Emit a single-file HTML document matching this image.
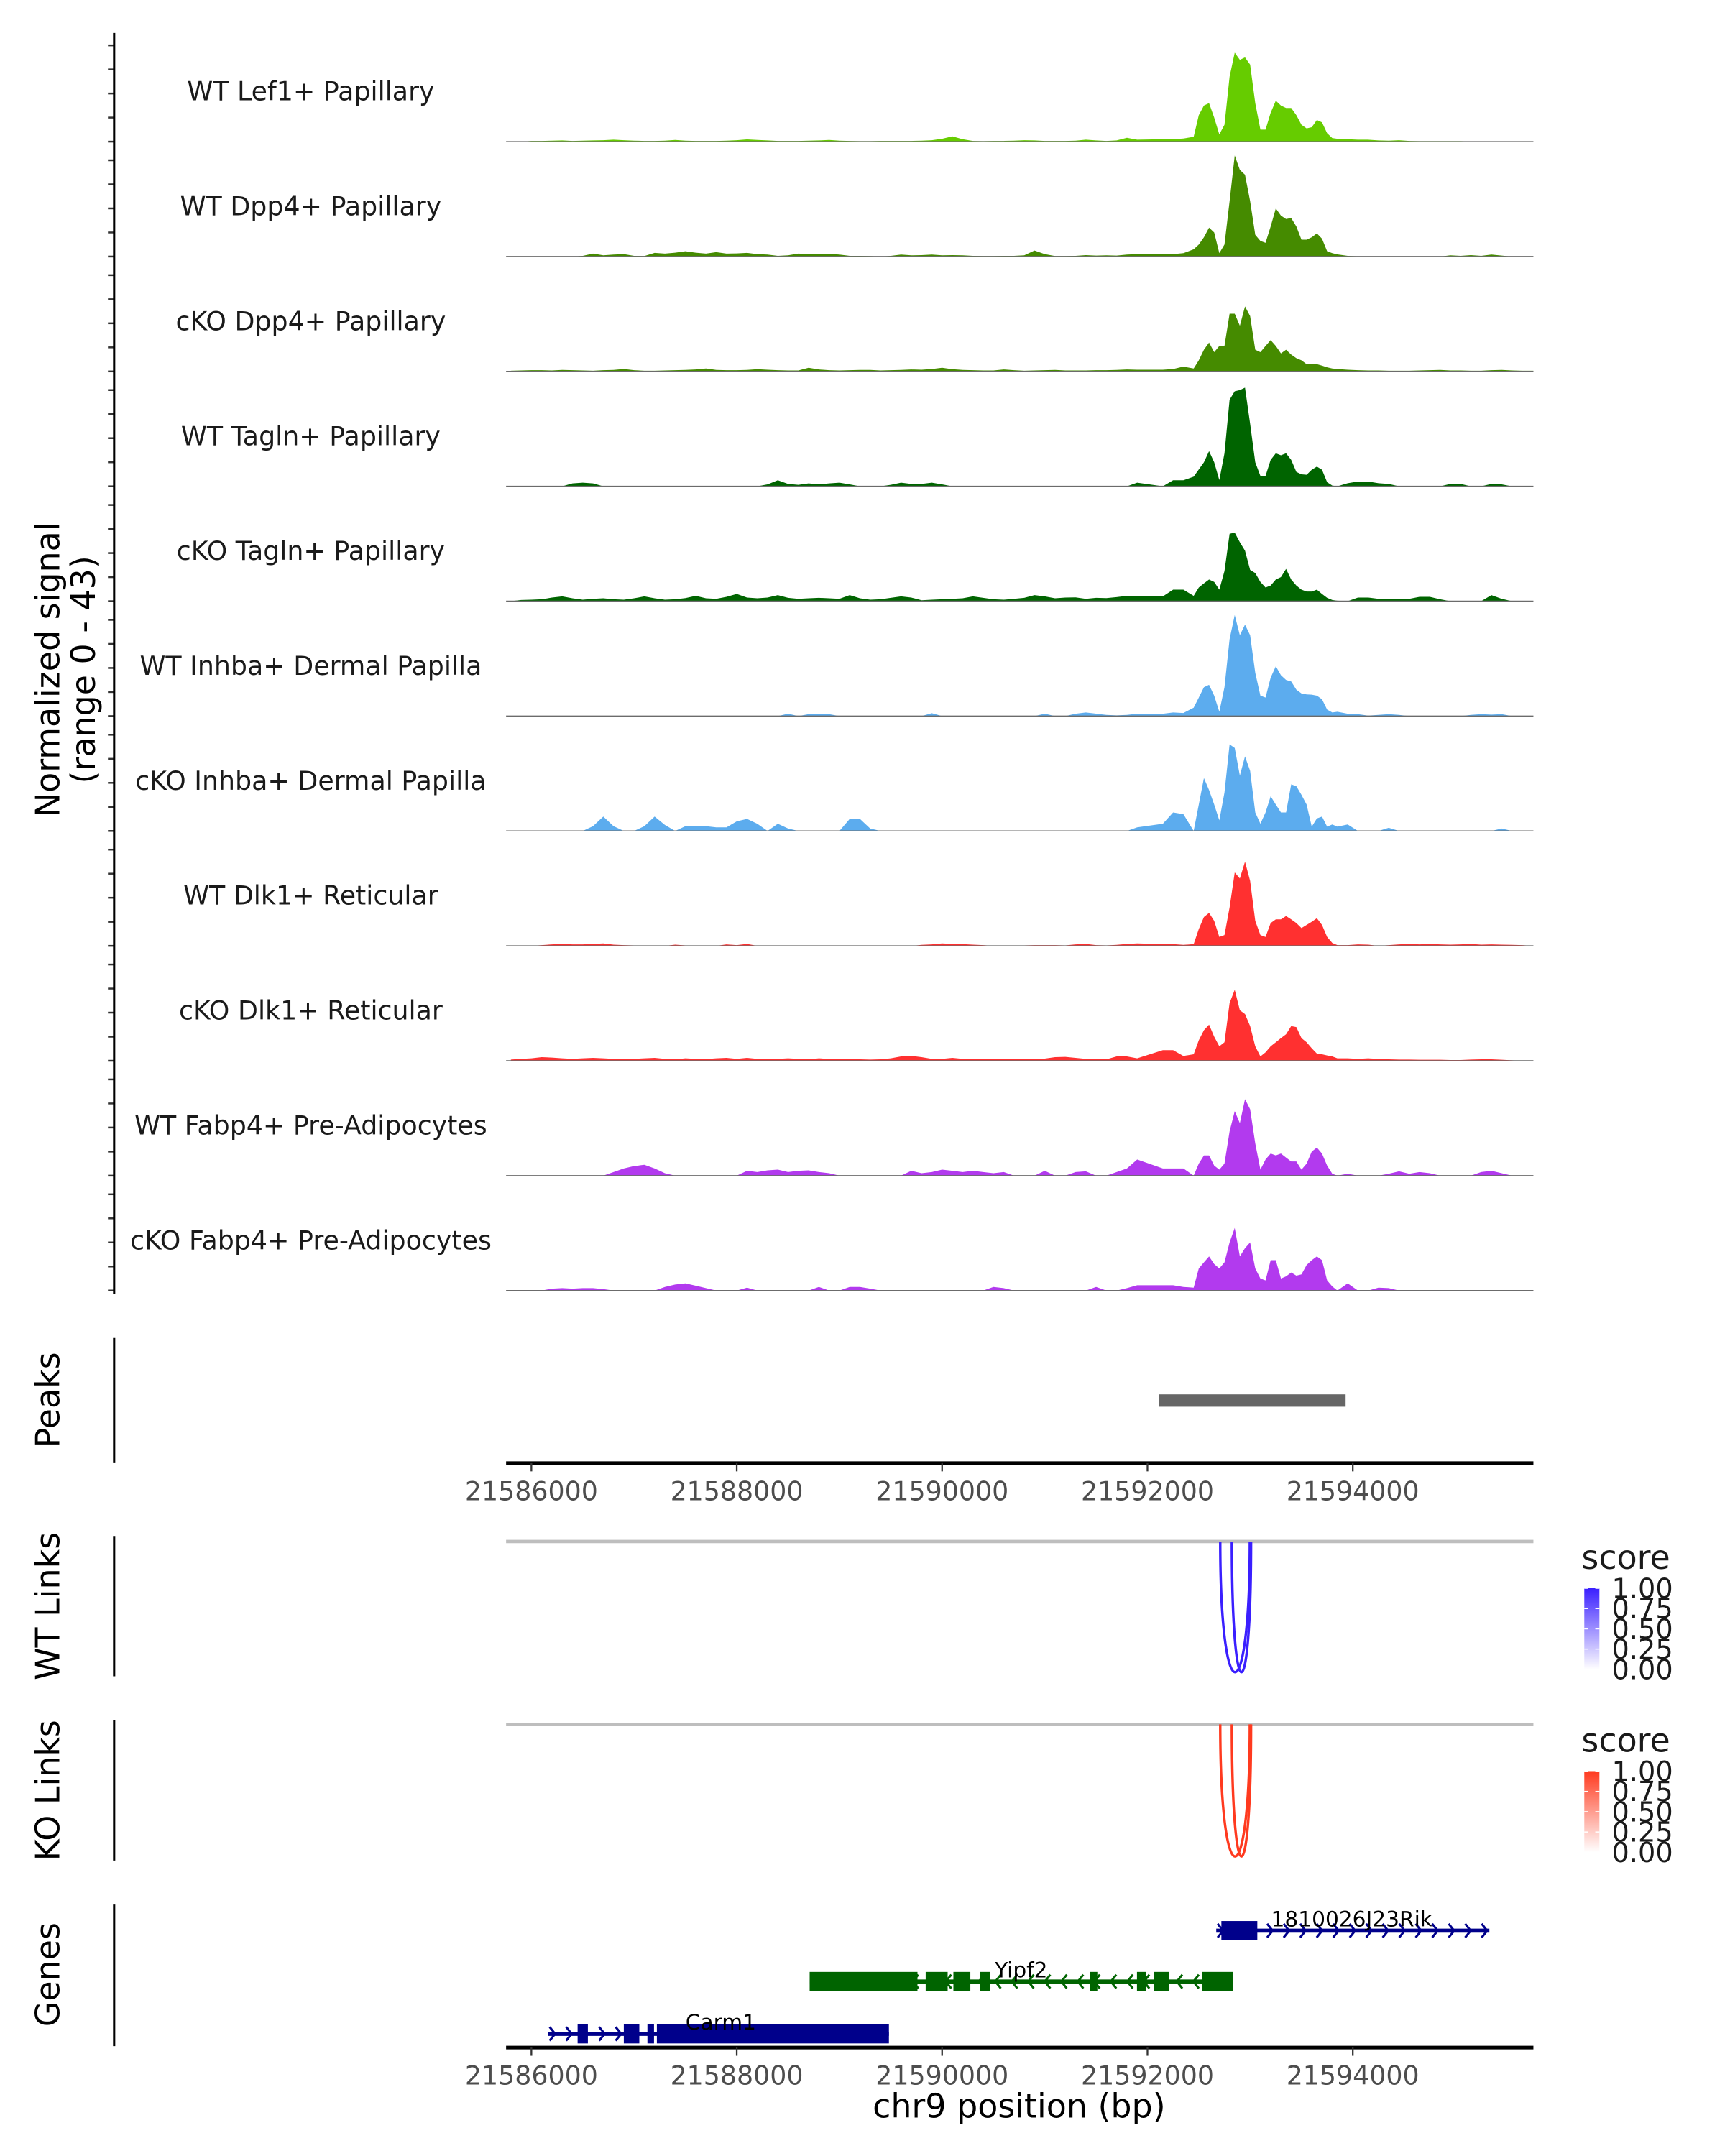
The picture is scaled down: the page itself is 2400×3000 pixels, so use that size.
<!DOCTYPE html>
<html><head><meta charset="utf-8"><style>
html,body{margin:0;padding:0;background:#fff;}
svg{display:block;font-family:"DejaVu Sans","Liberation Sans",sans-serif;}
</style></head><body>
<svg id="fig" width="2400" height="3000" viewBox="0 0 1240 1550" xmlns="http://www.w3.org/2000/svg">
<defs>
<clipPath id="clipTracks"><rect x="368" y="0" width="747" height="1550"/></clipPath>
<linearGradient id="gradBlue" x1="0" y1="0" x2="0" y2="1"><stop offset="0" stop-color="#3a1fff"/><stop offset="1" stop-color="#ffffff"/></linearGradient>
<linearGradient id="gradRed" x1="0" y1="0" x2="0" y2="1"><stop offset="0" stop-color="#ff3a1f"/><stop offset="1" stop-color="#ffffff"/></linearGradient>
</defs>
<g id="root" transform="scale(0.9886)">
<g id="tracks"></g>
<g id="axes"></g>
</g>
</svg>
<script>
// ---- data ----
const trackNames = ["WT Lef1+ Papillary","WT Dpp4+ Papillary","cKO Dpp4+ Papillary","WT Tagln+ Papillary","cKO Tagln+ Papillary","WT Inhba+ Dermal Papilla","cKO Inhba+ Dermal Papilla","WT Dlk1+ Reticular","cKO Dlk1+ Reticular","WT Fabp4+ Pre-Adipocytes","cKO Fabp4+ Pre-Adipocytes"];
const trackColors = ["#66CC00","#458B00","#458B00","#006400","#006400","#5CACEE","#5CACEE","#FF3030","#FF3030","#B23AEE","#B23AEE"];
// positions (bp): 100bp grid to 21591900, 100bp to 21592450, 50bp grid to 21593850, 100bp grid after
const positions = [];
for (let p = 21585800; p <= 21591900; p += 100) positions.push(p);
for (let p = 21592150; p <= 21592450; p += 100) positions.push(p);
for (let p = 21592500; p <= 21593850; p += 50) positions.push(p);
for (let p = 21593950; p <= 21596050; p += 100) positions.push(p);

const sigLef1WT = [0,0,0.3,0.3,0.4,0.5,0.3,0.4,0.5,0.6,0.8,0.6,0.4,0.3,0.3,0.4,0.7,0.4,0.3,0.3,0.3,0.4,0.6,0.9,0.7,0.5,0.3,0.3,0.3,0.4,0.5,0.7,0.4,0.3,0.2,0.2,0.3,0.3,0.3,0.3,0.4,0.6,1.2,2.2,1.0,0.3,0.2,0.3,0.3,0.4,0.6,0.5,0.3,0.3,0.3,0.4,0.8,0.5,0.3,0.5,1.6,0.8,
 1,1,1.3,2,
 11,15,16,10,3,7,27,37,34,35,32,16,5,5,12,17,15,14,14,11,7,5.5,6,9,8,3.5,1.5,1.2,
 1,0.8,0.8,0.5,0.4,0.6,0.3,0.2,0.2,0.2,0.2,0.2,0.1,0.1,0.1,0.1,0,0,0,0,0,0];
const sigDpp4WT = [0,0,0,0,0,0,0,0.3,1.2,0.5,0.8,1,0.3,0.2,1.5,1.2,1.6,2.2,1.6,1.2,1.8,1.2,1.3,1.5,1,0.8,0.3,0.5,1.2,1.0,1.0,1.1,0.8,0.3,0.3,0.2,0,0.3,0.8,0.5,0.6,0.8,0.5,0.6,0.5,0.3,0.2,0.2,0.3,0.3,0.5,2.5,1.0,0.2,0.2,0.3,0.6,0.4,0.5,0.4,0.8,1,
 1,1,1.4,3,
 5,8,12,10,1.4,5,23,42,36,34,23,9,6.5,5.7,12.5,20,17,15.6,16,12.5,7,7,8,9.6,7.4,2.2,1.4,0.9,
 0.3,0.1,0,0,0,0,0,0,0,0,0.5,0.3,0.6,0.3,0.8,0.4,0,0,0,0,0,0];
const sigDpp4KO = [0.3,0.4,0.5,0.5,0.4,0.6,0.5,0.4,0.3,0.5,0.6,1.0,0.5,0.3,0.3,0.4,0.5,0.6,0.8,1.2,0.6,0.5,0.5,0.6,0.9,0.7,0.5,0.4,0.4,1.5,0.8,0.5,0.4,0.5,0.6,0.6,0.4,0.5,0.6,0.8,0.7,1.0,1.5,0.9,0.6,0.5,0.4,0.4,0.8,0.5,0.3,0.4,0.5,0.6,0.4,0.4,0.4,0.5,0.5,0.6,0.8,0.7,
 0.7,1,2,1.2,
 4.6,9,12,8,10.6,10.6,24,24,19,27,23,9,8,10.6,13,10.6,7.5,9,7,5.5,4.6,3,3,3,2.4,1.7,1.2,1,
 0.7,0.5,0.4,0.4,0.3,0.3,0.3,0.4,0.5,0.6,0.4,0.4,0.3,0.3,0.5,0.6,0.4,0.3,0.3,0.2,0,0];
const sigTaglnWT = [0,0,0,0,0,0,1.2,1.5,1.2,0,0,0,0,0,0,0,0,0,0,0,0,0,0,0,0,0.8,2.5,1,0.6,1.2,0.8,1.2,1.5,0.8,0,0,0,0.6,1.5,1,1,1.5,0.8,0,0,0,0,0,0,0,0,0,0,0,0,0,0,0,0,0,0,1.5,
 0,2.5,2.5,4,
 7,10,14.6,10,2.6,13.7,36,39.5,40,41,26,10,4.3,4.3,11,13.7,12.9,13.7,11,6,5,4.8,6.9,8.2,6.9,1.7,0.3,0,
 1.3,2,2,1.3,1,0,0,0,0,0,1,1,0,0,1,0.8,0,0,0,0,0,0];
const sigTaglnKO = [0,0.5,0.6,0.8,1.5,2,1.2,0.6,1,1.2,0.8,0.6,1.2,2,1.2,0.6,0.8,1.3,2.2,1.2,1,1.8,3,1.5,1.2,1.5,2.5,1.4,1,1.2,1.4,1.2,1.0,2.5,1.2,0.6,0.8,1.4,2,1.5,0.4,0.6,0.8,1,1.2,2,1.4,0.8,0.6,1,1.4,2.5,2,1.2,1.5,1.6,1,1.4,1.3,1.7,2.2,2,
 2,4.8,4.8,2.2,
 5.7,7.4,9,8,4.8,12.5,28,28.5,24.5,21,13,11.7,8,5.7,6.5,9,10,13.4,9,6.5,4.8,4,4,4.8,3,1.4,0.5,0.2,
 0,1.5,1.5,1,1,0.8,1,1.8,1.8,0.8,0,0,0,0,2.5,1,0,0,0,0,0,0];
const sigInhbaWT = [0,0,0,0,0,0,0,0,0,0,0,0,0,0,0,0,0,0,0,0,0,0,0,0,0,0,0,1,0,0.8,0.8,0.8,0,0,0,0,0,0,0,0,0,1.2,0,0,0,0,0,0,0,0,0,0,1,0,0,1,1.5,1,0.5,0.3,0.5,1,
 1,1.5,1.3,3.5,
 7.7,12,13,8.5,1.8,12,32,42,33.6,38,33.6,18,8.5,7.7,16,20.7,17,15,14.4,11,9.4,9,8.9,8.5,7,2.7,1.5,1.8,
 1,0.8,0.2,0.5,0.8,0.5,0,0,0,0,0,0,0.5,0.8,0.6,0.8,0,0,0,0,0,0];
const sigInhbaKO = [0,0,0,0,0,0,0,0,2,6,2,0,0,2,6,2.5,0,2,2,2,1.5,1.5,4,5,3,0,3,1,0,0,0,0,0,5,5,1,0,0,0,0,0,0,0,0,0,0,0,0,0,0,0,0,0,0,0,0,0,0,0,0,0,1.5,
 3,7.7,7,0,
 11,22,17,11,4.4,16,36,34.5,23,31,25,7.7,3,7.7,14.4,11,7.7,7.7,19.4,18.6,15,11,1.8,5.2,6,1.8,2.7,1.8,
 2.7,0,0,0,1.3,0,0,0,0,0,0,0,0,0,0,1,0,0,0,0,0,0];
const sigDlk1WT = [0,0,0,0.3,0.6,0.8,0.6,0.6,0.8,1,0.5,0.3,0.2,0,0,0,0.5,0.2,0,0,0,0.6,0.3,0.8,0,0,0,0,0,0,0,0,0,0,0,0,0,0,0,0,0.4,0.6,1,0.8,0.7,0.5,0.3,0,0,0,0.2,0.3,0.3,0.3,0.2,0.6,0.8,0.3,0.2,0.4,0.8,1,
 0.7,0.7,0.4,0.7,
 7,12,13.7,10.4,3.7,4.5,16,30.5,28,35,27,10.4,4.5,3.7,9.5,11,11,12.4,11,9.5,7.4,8.7,10,11.5,8.7,3.7,1.2,0.3,
 0.3,0.6,0.5,0,0.3,0.6,0.8,0.6,0.8,0.6,0.5,0.6,0.8,0.5,0.6,0.5,0.4,0.3,0,0,0,0];
const sigDlk1KO = [0.5,0.8,1,1.5,1.3,1,0.8,1,1.2,1,0.8,0.6,0.8,1,1.2,0.8,0.6,1,0.8,0.7,1,1.2,0.8,1.2,0.8,0.6,0.8,1,0.8,0.6,1,0.8,0.6,0.8,0.6,0.5,0.6,1,1.8,2,1.5,0.8,0.8,1.2,0.8,0.6,0.8,0.7,0.8,0.8,0.6,0.8,0.9,1.5,1.6,1.2,0.8,0.7,0.6,1.8,1.8,1,
 4.4,4.4,2,2.7,
 8.5,12.7,15,10,6,7.7,24,29.5,21,19.4,14.4,6,1.8,3.5,6,7.7,9.4,11,14.4,14,9.4,7.7,5.2,3,2.7,2.2,1.8,1,
 1,0.8,1,0.8,0.6,0.5,0.5,0.4,0.4,0.4,0.3,0.3,0.5,0.6,0.6,0.4,0.2,0,0,0,0,0];
const sigFabp4WT = [0,0,0,0,0,0,0,0,0,0,1.5,3,4,4.5,3,1,0,0,0,0,0,0,0,2,1.5,2.2,2.5,1.5,2,2.2,1.5,1,0,0,0,0,0,0,0,2,1,1.5,2.5,2,1.5,2,1.5,1,1.5,0,0,0,2,0,0,1.5,1.8,0,0,1.5,3,6.7,
 3,3,3,0,
 5,8.4,8.4,4.2,2.5,5,18.4,26.8,21.8,31.8,27.6,13.4,2.5,6.7,9.2,8.4,9.2,7.5,5.9,5.9,2.5,5,10,11.7,9.2,4.2,0.8,0,
 0.8,0,0,0,0.8,1.8,0.8,1.5,1,0,0,0,0,1.5,2,1,0,0,0,0,0,0];
const sigFabp4KO = [0,0,0,0,0.8,1,0.8,1,1,0.6,0,0,0,0,0,1.5,2.5,3,2,1,0,0,0,1.2,0,0,0,0,0,0,1.5,0,0,1.5,1.5,0.8,0,0,0,0,0,0,0,0,0,0,0,1.5,1,0,0,0,0,0,0,0,0,1.5,0,0,1,2.2,
 2.2,2.2,1.5,1.2,
 9.2,11.7,14.2,11,9.2,11.7,20,26,14.2,17.6,20,9.2,5,4.2,12.6,12.6,5,5.9,7.5,6.2,6.7,10.6,12.6,14.2,12.6,4.2,1.7,0,
 3,0,0,1.2,1,0,0,0,0,0,0,0,0,0,0,0,0,0,0,0,0,0];
const trackSignals = [sigLef1WT,sigDpp4WT,sigDpp4KO,sigTaglnWT,sigTaglnKO,sigInhbaWT,sigInhbaKO,sigDlk1WT,sigDlk1KO,sigFabp4WT,sigFabp4KO];

const axisTicks = [21586000,21588000,21590000,21592000,21594000];
const axisTickLabels = ["21586000","21588000","21590000","21592000","21594000"];
const peakStarts = [21592112];
const peakEnds = [21593930];
const wtLinkStarts = [21592709,21592822];
const wtLinkEnds = [21592997,21593009];
const wtLinkScores = [1,1];
const koLinkStarts = [21592709,21592822];
const koLinkEnds = [21592997,21593009];
const koLinkScores = [1,1];
const legendTicks = ["1.00","0.75","0.50","0.25","0.00"];

const geneNames = ["1810026J23Rik","Yipf2","Carm1"];
const geneStrands = ["+","-","+"];
const geneColors = ["#00008B","#006400","#00008B"];
const geneStarts = [21592670,21588710,21586164];
const geneEnds = [21595330,21592834,21589482];
const geneExonStarts = [[21592720],[21588710,21589840,21590110,21590368,21591440,21591898,21592062,21592534],[21586450,21586900,21587130,21587222]];
const geneExonEnds = [[21593070],[21589760,21590054,21590275,21590468,21591512,21591984,21592212,21592834],[21586550,21587051,21587194,21589482]];
const geneLabelPos = [21593990,21590770,21587845];

// ---- scales ----
const NS = "http://www.w3.org/2000/svg";
const X = bp => 386.4 + (bp - 21586000) * 0.07466;
const PX_PER_UNIT = 1.75;
const BASE0 = 103, TRACK_STEP = 83.55;
const Y = (i, v) => BASE0 + i * TRACK_STEP - Math.min(v, 43) * PX_PER_UNIT;
function mk(tag, attrs, parent){ const e = document.createElementNS(NS, tag); for (const k in attrs) e.setAttribute(k, attrs[k]); parent.appendChild(e); return e; }

const tracks = document.getElementById('tracks');
const axes = document.getElementById('axes');
const clipG = mk('g', {'clip-path':'url(#clipTracks)'}, tracks);



trackSignals.forEach((vals, i) => {
  const base = BASE0 + i * TRACK_STEP;
  let d = `M${X(positions[0]).toFixed(2)},${base}`;
  positions.forEach((p, j) => { const v = vals[j] || 0; d += ` L${X(p).toFixed(2)},${Y(i, v).toFixed(2)}`; });
  d += ` L${X(positions[positions.length-1]).toFixed(2)},${base} Z`;
  const area = mk('path', {d: d, fill: trackColors[i], stroke: 'none'}, clipG);
  
  
  const bl = mk('line', {x1:368, x2:1115, y1:base, y2:base, stroke:'#6b6b6b', 'stroke-width':0.8}, tracks);
  
  
  const lab = mk('text', {x:226, y:base - 30, 'text-anchor':'middle', 'font-size':19, fill:'#1a1a1a'}, tracks);
  lab.textContent = trackNames[i];
  
  
  for (let k = 0; k <= 4; k++) {
    const ty = base - k * 10 * PX_PER_UNIT;
    const t = mk('line', {x1:78.5, x2:83, y1:ty, y2:ty, stroke:'#333', 'stroke-width':1.3}, axes);
    
    
  }
});

// left axis lines
[[24,941],[973,1064],[1117,1219],[1251,1353],[1385,1488]].forEach(r => {
  const l = mk('line', {x1:83, x2:83, y1:r[0], y2:r[1], stroke:'#000', 'stroke-width':1.6}, axes);
  
  
});
function vText(txt, x, y, size, name){
  const t = mk('text', {x:0, y:0, 'text-anchor':'middle', 'font-size':size, fill:'#000', transform:`translate(${x},${y}) rotate(-90)`}, axes);
  t.textContent = txt;
  
  
}
vText('Normalized signal', 43, 487, 24, 'y-axis-title');
vText('(range 0 - 43)', 69, 487, 24, 'y-axis-subtitle');
vText('Peaks', 43, 1018, 24, 'peaks-label');
vText('WT Links', 43, 1168, 24, 'wt-links-label');
vText('KO Links', 43, 1302, 24, 'ko-links-label');
vText('Genes', 43, 1436, 24, 'genes-label');

// peaks
peakStarts.forEach((s, i) => {
  const r = mk('rect', {x:X(s), y:1014, width:X(peakEnds[i]) - X(s), height:9, fill:'#666'}, tracks);
  
  
});

// x axes
function xAxis(y, name){
  const g = mk('g', {}, axes);
  
  
  mk('line', {x1:368, x2:1115, y1:y, y2:y, stroke:'#000', 'stroke-width':2.6}, g);
  axisTicks.forEach((t, i) => {
    const tk = mk('line', {x1:X(t), x2:X(t), y1:y, y2:y + 6, stroke:'#333', 'stroke-width':1.2}, g);
    
    
    const tl = mk('text', {x:X(t), y:y + 27, 'text-anchor':'middle', 'font-size':19, fill:'#4d4d4d'}, g);
    tl.textContent = axisTickLabels[i];
    
    
  });
}
xAxis(1064, 'peaks-x-axis');
xAxis(1489, 'genes-x-axis');
const xt = mk('text', {x:741, y:1540, 'text-anchor':'middle', 'font-size':24, fill:'#000'}, axes);
xt.textContent = 'chr9 position (bp)';



// links
function links(top, bottom, starts, ends, scores, color, grad, name){
  const g = mk('g', {}, tracks);
  
  
  mk('line', {x1:368, x2:1115, y1:top, y2:top, stroke:'#bebebe', 'stroke-width':2.4}, g);
  starts.forEach((s, i) => {
    const x1 = X(s), x2 = X(ends[i]);
    const cy = top + (bottom - top) / 0.75;
    const p = mk('path', {d:`M${x1},${top} C${x1},${cy} ${x2},${cy} ${x2},${top}`, fill:'none', stroke:color, 'stroke-width':1.8, opacity:0.3 + 0.7 * scores[i]}, g);
    
    
  });
  const ly = top;
  const tt = mk('text', {x:1150, y:ly + 20, 'font-size':24, fill:'#1a1a1a'}, g);
  tt.textContent = 'score';
  
  
  const bar = mk('rect', {x:1152, y:ly + 34, width:11, height:59, fill:`url(#${grad})`}, g);
  
  
  legendTicks.forEach((t, k) => {
    const yy = ly + 34 + k * 14.75;
    mk('line', {x1:1152, x2:1155, y1:yy, y2:yy, stroke:'#fff', 'stroke-width':0.8}, g);
    mk('line', {x1:1160, x2:1163, y1:yy, y2:yy, stroke:'#fff', 'stroke-width':0.8}, g);
    const lt = mk('text', {x:1172, y:yy + 7, 'font-size':20, fill:'#1a1a1a'}, g);
    lt.textContent = t;
    
    
  });
}
links(1121, 1216, wtLinkStarts, wtLinkEnds, wtLinkScores, '#3a1fff', 'gradBlue', 'wt-links');
links(1254, 1350, koLinkStarts, koLinkEnds, koLinkScores, '#ff3a1f', 'gradRed', 'ko-links');

// genes
const geneY = [1404, 1441, 1479];
geneNames.forEach((n, i) => {
  const g = mk('g', {}, tracks);
  
  
  const y = geneY[i], c = geneColors[i];
  const xs = X(geneStarts[i]), xe = X(geneEnds[i]);
  mk('line', {x1:xs, x2:xe, y1:y, y2:y, stroke:c, 'stroke-width':3}, g);
  for (let x = xs + 4; x < xe - 2; x += 12) {
    const d = geneStrands[i] === '+' ? `M${x-3},${y-5} L${x+1},${y} L${x-3},${y+5}` : `M${x+3},${y-5} L${x-1},${y} L${x+3},${y+5}`;
    mk('path', {d:d, fill:'none', stroke:c, 'stroke-width':1.6}, g);
  }
  geneExonStarts[i].forEach((s, k) => {
    const r = mk('rect', {x:X(s), y:y - 7, width:Math.max(1.5, X(geneExonEnds[i][k]) - X(s)), height:14, fill:c}, g);
    
    
  });
  const t = mk('text', {x:X(geneLabelPos[i]), y:y - 3, 'text-anchor':'middle', 'font-size':15.5, fill:'#000'}, g);
  t.textContent = n;
  
  
});
</script>
</body></html>
